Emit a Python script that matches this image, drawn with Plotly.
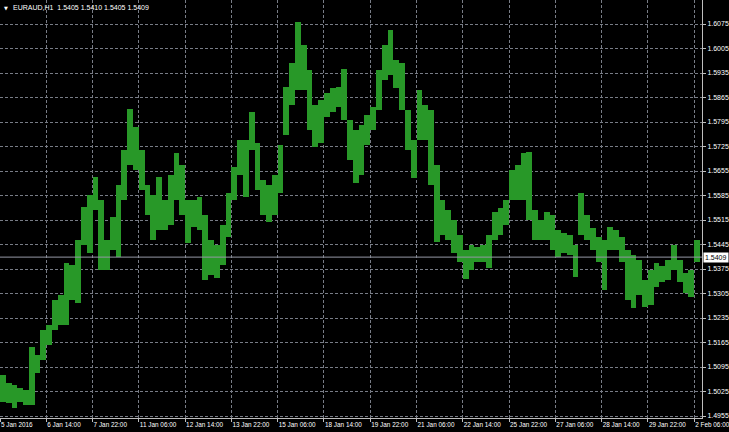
import plotly.graph_objects as go

symbol = "EURAUD,H1"
last_ohlc = ["1.5405", "1.5410", "1.5405", "1.5409"]
last_price = 1.5409
hours_per_sample = 4  # each sample spans 4 hourly bars

high = [1.5072, 1.5049, 1.5044, 1.5035, 1.5029, 1.5152, 1.5129, 1.5201, 1.5215, 1.5286,
        1.5301, 1.5392, 1.5386, 1.5458, 1.5552, 1.5586, 1.5638, 1.5572, 1.5458, 1.5524,
        1.5615, 1.5715, 1.5832, 1.5781, 1.5715, 1.5615, 1.5586, 1.5638, 1.5572, 1.5644,
        1.5706, 1.5672, 1.5572, 1.5572, 1.5581, 1.5529, 1.5458, 1.5444, 1.5501, 1.5592,
        1.5666, 1.5744, 1.5744, 1.5824, 1.5735, 1.5629, 1.5615, 1.5644, 1.5729, 1.5895,
        1.5964, 1.6081, 1.6015, 1.5944, 1.5844, 1.5858, 1.5878, 1.5892, 1.5895, 1.5946,
        1.5801, 1.5772, 1.5786, 1.5815, 1.5838, 1.5944, 1.6015, 1.6058, 1.5972, 1.5964,
        1.5829, 1.5744, 1.5886, 1.5844, 1.5829, 1.5672, 1.5572, 1.5544, 1.5515, 1.5472,
        1.5429, 1.5444, 1.5438, 1.5444, 1.5472, 1.5538, 1.5549, 1.5572, 1.5658, 1.5672,
        1.5706, 1.5709, 1.5544, 1.5515, 1.5538, 1.5529, 1.5486, 1.5478, 1.5472, 1.5444,
        1.5592, 1.5529, 1.5492, 1.5466, 1.5458, 1.5495, 1.5486, 1.5466, 1.5429, 1.5415,
        1.5401, 1.5344, 1.5372, 1.5392, 1.5384, 1.5401, 1.5444, 1.5401, 1.5364, 1.5372,
        1.5458]
low = [1.4995, 1.4992, 1.4978, 1.4995, 1.4986, 1.4986, 1.5078, 1.5115, 1.5158, 1.5201,
       1.5215, 1.5215, 1.5286, 1.5278, 1.5444, 1.5421, 1.5544, 1.5372, 1.5372, 1.5429,
       1.5409, 1.5572, 1.5672, 1.5658, 1.5601, 1.5529, 1.5458, 1.5486, 1.5486, 1.5501,
       1.5572, 1.5529, 1.5449, 1.5495, 1.5486, 1.5344, 1.5358, 1.5349, 1.5386, 1.5466,
       1.5572, 1.5644, 1.5581, 1.5715, 1.5601, 1.5529, 1.5509, 1.5529, 1.5592, 1.5758,
       1.5844, 1.5886, 1.5886, 1.5772, 1.5724, 1.5735, 1.5809, 1.5824, 1.5838, 1.5801,
       1.5686, 1.5621, 1.5644, 1.5729, 1.5772, 1.5829, 1.5915, 1.5929, 1.5892, 1.5829,
       1.5715, 1.5635, 1.5744, 1.5744, 1.5615, 1.5452, 1.5472, 1.5458, 1.5421, 1.5395,
       1.5346, 1.5372, 1.5395, 1.5395, 1.5378, 1.5458, 1.5472, 1.5501, 1.5572, 1.5572,
       1.5572, 1.5515, 1.5458, 1.5458, 1.5458, 1.5429, 1.5409, 1.5421, 1.5415, 1.5352,
       1.5472, 1.5458, 1.5429, 1.5395, 1.5315, 1.5429, 1.5429, 1.5395, 1.5286, 1.5264,
       1.5301, 1.5266, 1.5272, 1.5324, 1.5338, 1.5344, 1.5372, 1.5338, 1.5306, 1.5295,
       1.5395]

x_tick_labels = ["5 Jan 2016", "6 Jan 14:00", "7 Jan 22:00", "11 Jan 06:00", "12 Jan 14:00",
                 "13 Jan 22:00", "15 Jan 06:00", "18 Jan 14:00", "19 Jan 22:00", "21 Jan 06:00",
                 "22 Jan 14:00", "25 Jan 22:00", "27 Jan 06:00", "28 Jan 14:00", "29 Jan 22:00",
                 "2 Feb 06:00"]
x_tick_hours = [0, 32, 64, 96, 128, 160, 192, 224, 256, 288, 320, 352, 384, 416, 448, 480]
y_tick_values = [1.4955, 1.5025, 1.5095, 1.5165, 1.5235, 1.5305, 1.5375, 1.5445, 1.5515,
                 1.5585, 1.5655, 1.5725, 1.5795, 1.5865, 1.5935, 1.6005, 1.6075]

GREEN = "rgb(40,152,40)"
GRID = "rgb(120,124,134)"
AXIS = "rgb(190,190,190)"
FONT = "Liberation Sans"

xs = [i * hours_per_sample + hours_per_sample / 2 for i in range(len(high))]
heights = [h - l for h, l in zip(high, low)]

fig = go.Figure()
fig.add_trace(go.Bar(
    x=xs, y=heights, base=low, width=hours_per_sample,
    marker=dict(color=GREEN, line=dict(width=0)),
    hoverinfo="skip", showlegend=False,
))

fig.add_shape(type="line", xref="paper", x0=0, x1=1, yref="y", y0=last_price, y1=last_price,
              line=dict(color="rgb(150,152,165)", width=1))

fig.add_annotation(xref="paper", x=1, xanchor="left", xshift=1, yref="y", y=last_price,
                   text=f"{last_price:.4f}", showarrow=False, bgcolor="white",
                   font=dict(family=FONT, size=7, color="black"), borderpad=1)

fig.add_annotation(xref="paper", x=0, xanchor="left", xshift=2, yref="paper", y=1, yanchor="top",
                   yshift=-3, text="▼", showarrow=False,
                   font=dict(family="DejaVu Sans", size=5, color="white"))
fig.add_annotation(xref="paper", x=0, xanchor="left", xshift=11, yref="paper", y=1, yanchor="top",
                   yshift=-2, text=f"{symbol}  " + " ".join(last_ohlc), showarrow=False,
                   font=dict(family=FONT, size=7, color="white"))

fig.update_layout(
    width=729, height=432,
    margin=dict(l=0, r=27, t=0, b=14),
    paper_bgcolor="black", plot_bgcolor="black",
    bargap=0,
    xaxis=dict(range=[0, 485.4], tickmode="array", tickvals=x_tick_hours, ticktext=x_tick_labels,
               ticklabelposition="outside right", ticklabeloverflow="allow", tickangle=0,
               ticks="outside", ticklen=3, tickcolor=AXIS,
               showgrid=True, gridcolor=GRID, griddash="3px,2px", gridwidth=1,
               showline=True, linecolor=AXIS, linewidth=1, zeroline=False,
               tickfont=dict(family=FONT, size=6.4, color="white")),
    yaxis=dict(range=[1.49493, 1.61436], side="right", tickmode="array", tickvals=y_tick_values,
               ticktext=[f"{v:.4f}" for v in y_tick_values], ticks="outside", ticklen=3,
               tickcolor=AXIS, showgrid=True, gridcolor=GRID, griddash="3px,2px", gridwidth=1,
               showline=True, linecolor=AXIS, linewidth=1, zeroline=False,
               tickfont=dict(family=FONT, size=7, color="white")),
)

fig.write_html("out.html", config={"displayModeBar": False},
               post_script="document.body.style.margin='0';document.body.style.background='black';")
